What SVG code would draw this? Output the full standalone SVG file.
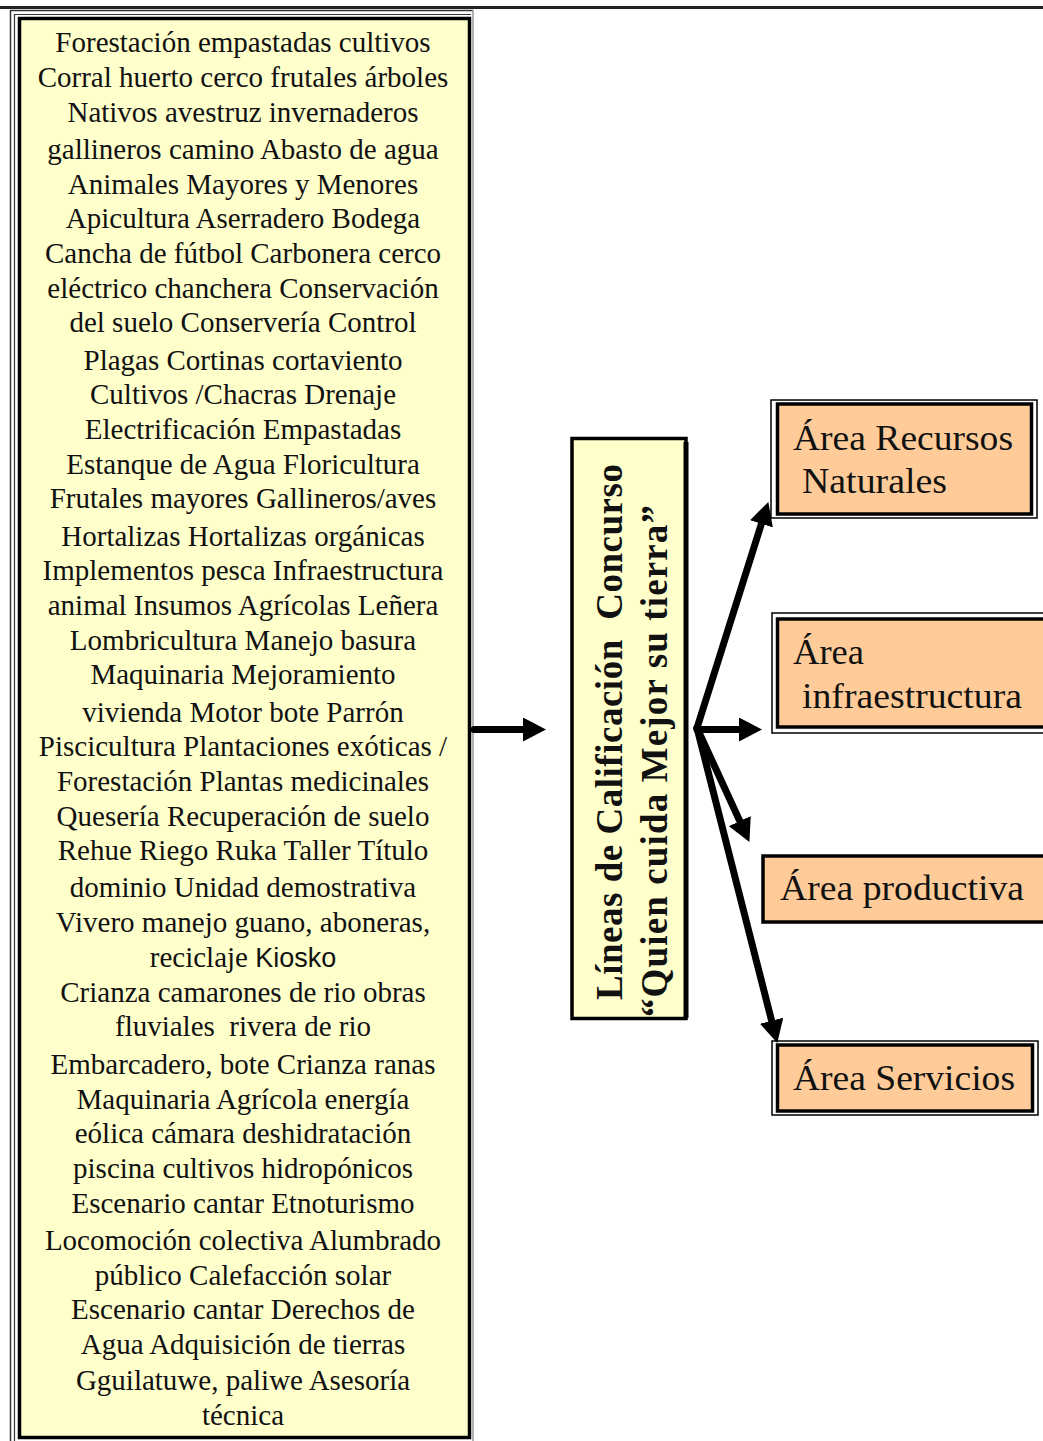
<svg xmlns="http://www.w3.org/2000/svg" width="1043" height="1441" viewBox="0 0 1043 1441">
<defs>
<style>
.list{font-family:"Liberation Serif","Times New Roman",serif;font-size:29px;fill:#111;text-anchor:middle}
.sans{font-family:"Liberation Sans",Arial,sans-serif;font-size:27px}
.vert{font-family:"Liberation Serif","Times New Roman",serif;font-size:37px;font-weight:bold;fill:#111}
.area{font-family:"Liberation Serif","Times New Roman",serif;font-size:35px;fill:#111}
.conn{stroke:#000;stroke-width:7;fill:none;stroke-linecap:round;marker-end:url(#ah)}
.yellow{fill:#FFFFCC}
.peach{fill:#FFCC99}
</style>
<marker id="ah" markerUnits="userSpaceOnUse" markerWidth="24" markerHeight="24" refX="4" refY="12" orient="auto" viewBox="0 0 24 24">
<path d="M0,0 L23,12 L0,24 z" fill="#000"/>
</marker>
</defs>
<rect x="0" y="0" width="1043" height="1441" fill="#fff"/>
<line x1="0" y1="7.5" x2="1043" y2="7.5" stroke="#222" stroke-width="3"/>

<g id="list-box">
<path d="M10.5,1441 V10.5 H473" fill="none" stroke="#333" stroke-width="1.5"/>
<path d="M14.5,1441 V14.5 H471" fill="none" stroke="#333" stroke-width="1.2"/>
<line x1="473" y1="10" x2="473" y2="1441" stroke="#999" stroke-width="1.5"/>
<rect x="19.5" y="18.5" width="450" height="1419" class="yellow" stroke="#000" stroke-width="3.5"/>
<text class="list" x="243" y="52">Forestación empastadas cultivos</text>
<text class="list" x="243" y="87">Corral huerto cerco frutales árboles</text>
<text class="list" x="243" y="122">Nativos avestruz invernaderos</text>
<text class="list" x="243" y="159">gallineros camino Abasto de agua</text>
<text class="list" x="243" y="194">Animales Mayores y Menores</text>
<text class="list" x="243" y="228">Apicultura Aserradero Bodega</text>
<text class="list" x="243" y="263">Cancha de fútbol Carbonera cerco</text>
<text class="list" x="243" y="298">eléctrico chanchera Conservación</text>
<text class="list" x="243" y="332">del suelo Conservería Control</text>
<text class="list" x="243" y="370">Plagas Cortinas cortaviento</text>
<text class="list" x="243" y="404">Cultivos /Chacras Drenaje</text>
<text class="list" x="243" y="439">Electrificación Empastadas</text>
<text class="list" x="243" y="474">Estanque de Agua Floricultura</text>
<text class="list" x="243" y="508">Frutales mayores Gallineros/aves</text>
<text class="list" x="243" y="546">Hortalizas Hortalizas orgánicas</text>
<text class="list" x="243" y="580">Implementos pesca Infraestructura</text>
<text class="list" x="243" y="615">animal Insumos Agrícolas Leñera</text>
<text class="list" x="243" y="650">Lombricultura Manejo basura</text>
<text class="list" x="243" y="684">Maquinaria Mejoramiento</text>
<text class="list" x="243" y="722">vivienda Motor bote Parrón</text>
<text class="list" x="243" y="756">Piscicultura Plantaciones exóticas /</text>
<text class="list" x="243" y="791">Forestación Plantas medicinales</text>
<text class="list" x="243" y="826">Quesería Recuperación de suelo</text>
<text class="list" x="243" y="860">Rehue Riego Ruka Taller Título</text>
<text class="list" x="243" y="897">dominio Unidad demostrativa</text>
<text class="list" x="243" y="932">Vivero manejo guano, aboneras,</text>
<text class="list" x="243" y="967">reciclaje <tspan class="sans">Kiosko</tspan></text>
<text class="list" x="243" y="1002">Crianza camarones de rio obras</text>
<text class="list" x="243" y="1036" xml:space="preserve">fluviales  rivera de rio</text>
<text class="list" x="243" y="1074">Embarcadero, bote Crianza ranas</text>
<text class="list" x="243" y="1109">Maquinaria Agrícola energía</text>
<text class="list" x="243" y="1143">eólica cámara deshidratación</text>
<text class="list" x="243" y="1178">piscina cultivos hidropónicos</text>
<text class="list" x="243" y="1213">Escenario cantar Etnoturismo</text>
<text class="list" x="243" y="1250">Locomoción colectiva Alumbrado</text>
<text class="list" x="243" y="1285">público Calefacción solar</text>
<text class="list" x="243" y="1319">Escenario cantar Derechos de</text>
<text class="list" x="243" y="1354">Agua Adquisición de tierras</text>
<text class="list" x="243" y="1390">Gguilatuwe, paliwe Asesoría</text>
<text class="list" x="243" y="1425">técnica</text>
</g>

<g id="title-box">
<rect x="572" y="438.5" width="114" height="580" class="yellow" stroke="#000" stroke-width="3.5"/>
<line x1="686" y1="442" x2="686" y2="1018" stroke="#000" stroke-width="5"/>
<text class="vert" transform="translate(622,1000) rotate(-90)" textLength="536" lengthAdjust="spacing" xml:space="preserve">Líneas de Calificación  Concurso</text>
<text class="vert" transform="translate(667,1017) rotate(-90)" textLength="512" lengthAdjust="spacing">“Quien cuida Mejor su tierra”</text>
</g>

<g id="area-recursos">
<rect x="771" y="400" width="266" height="118" fill="none" stroke="#000" stroke-width="1.5"/>
<rect x="777.5" y="404" width="254" height="110" class="peach" stroke="#000" stroke-width="3.5"/>
<text class="area" x="793" y="450" textLength="220" lengthAdjust="spacingAndGlyphs">Área Recursos</text>
<text class="area" x="802" y="493" textLength="145" lengthAdjust="spacingAndGlyphs">Naturales</text>
</g>

<g id="area-infraestructura">
<rect x="772" y="613" width="290" height="120" fill="none" stroke="#000" stroke-width="1.5"/>
<rect x="777.5" y="619" width="280" height="108" class="peach" stroke="#000" stroke-width="3.5"/>
<text class="area" x="793" y="664" textLength="71" lengthAdjust="spacingAndGlyphs">Área</text>
<text class="area" x="802" y="708" textLength="220" lengthAdjust="spacingAndGlyphs">infraestructura</text>
</g>

<g id="area-productiva">
<rect x="763" y="856" width="300" height="66" class="peach" stroke="#000" stroke-width="3.5"/>
<text class="area" x="780" y="900" textLength="244" lengthAdjust="spacingAndGlyphs">Área productiva</text>
</g>

<g id="area-servicios">
<rect x="772" y="1041" width="266" height="74" fill="none" stroke="#000" stroke-width="1.5"/>
<rect x="777.5" y="1045" width="255" height="66" class="peach" stroke="#000" stroke-width="3.5"/>
<text class="area" x="793" y="1090" textLength="222" lengthAdjust="spacingAndGlyphs">Área Servicios</text>
</g>

<g id="connectors">
<line class="conn" x1="474" y1="729.5" x2="527" y2="729.5"/>
<line class="conn" x1="697" y1="728" x2="762.6" y2="520"/>
<line class="conn" x1="697" y1="729.5" x2="743" y2="729.5"/>
<line class="conn" x1="697" y1="728" x2="741.5" y2="824.7"/>
<line class="conn" x1="697" y1="728" x2="772.6" y2="1024.6" stroke-width="8.5"/>
</g>
</svg>
